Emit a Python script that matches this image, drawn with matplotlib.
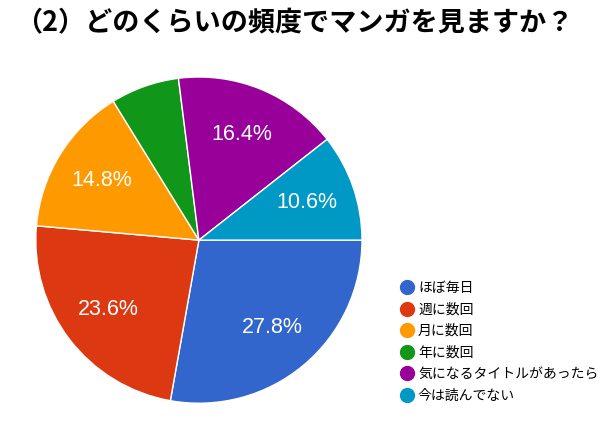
import numpy as np
import matplotlib.pyplot as plt
from matplotlib.lines import Line2D

plt.rcParams['font.family'] = ['Noto Sans CJK JP', 'DejaVu Sans']

# データ
categories = ["ほぼ毎日", "週に数回", "月に数回", "年に数回", "気になるタイトルがあったら", "今は読んでない"]
values = [27.8, 23.6, 14.8, 6.8, 16.4, 10.6]
pct_labels = ["27.8%", "23.6%", "14.8%", "", "16.4%", "10.6%"]
colors = ["#3366cc", "#dc3912", "#ff9900", "#109618", "#990099", "#0099c6"]

fig = plt.figure(figsize=(6, 4.28), dpi=100)
fig.text(0.49, 0.945, "（2）どのくらいの頻度でマンガを見ますか？", ha='center', va='center',
         fontsize=19.5, fontweight='bold')

ax = fig.add_axes([0.058, 0.056, 0.547, 0.766])
wedges, _ = ax.pie(values, colors=colors, startangle=0, counterclock=False,
                   wedgeprops=dict(edgecolor='white', linewidth=1))
ax.set_xlim(-1.005, 1.005)
ax.set_ylim(-1.005, 1.005)
ax.set_aspect('equal')

# パーセント表示
ang0 = 0.0
total = sum(values)
for v, lab in zip(values, pct_labels):
    mid = ang0 - v / total * 360 / 2
    ang0 -= v / total * 360
    if lab:
        r = 0.70
        ax.text(r * np.cos(np.radians(mid)), r * np.sin(np.radians(mid)), lab,
                ha='center', va='center', color='white', fontsize=15.5,
                family=['Liberation Sans'])

handles = [Line2D([0], [0], marker='o', linestyle='', markersize=10,
                  markerfacecolor=c, markeredgecolor=c) for c in colors]
fig.legend(handles, categories, loc='upper left', bbox_to_anchor=(0.655, 0.357),
           frameon=False, fontsize=10, handletextpad=0.2, labelspacing=0.55,
           borderaxespad=0, handlelength=1.2)

fig.savefig("out.png", dpi=100)
